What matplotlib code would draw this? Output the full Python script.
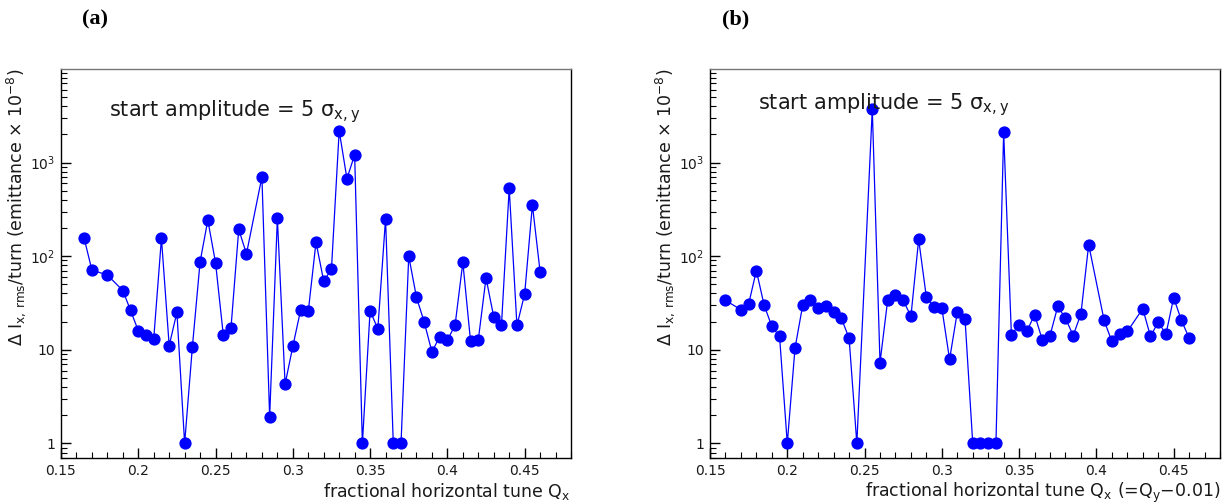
import numpy as np
import matplotlib.pyplot as plt
from matplotlib.ticker import FixedLocator, FixedFormatter, LogLocator, NullFormatter, MultipleLocator

# panel (a): start amplitude 5 sigma, Qx scan
qx_a = [0.165, 0.17, 0.18, 0.19, 0.195, 0.20, 0.205, 0.21, 0.215, 0.22, 0.225, 0.23,
        0.235, 0.24, 0.245, 0.25, 0.255, 0.26, 0.265, 0.27, 0.28, 0.285, 0.29, 0.295,
        0.30, 0.305, 0.31, 0.315, 0.32, 0.325, 0.33, 0.335, 0.34, 0.345, 0.35, 0.355,
        0.36, 0.365, 0.37, 0.375, 0.38, 0.385, 0.39, 0.395, 0.40, 0.405, 0.41, 0.415,
        0.42, 0.425, 0.43, 0.435, 0.44, 0.445, 0.45, 0.455, 0.46]
dI_a = [155, 71, 63, 43, 26.4, 16.0, 14.4, 13.1, 155, 11.1, 25.1, 1,
        10.7, 87, 243, 85, 14.5, 17.2, 193, 106, 702, 1.93, 253, 4.3,
        10.9, 26.4, 25.8, 141, 54, 73, 2185, 674, 1208, 1, 26.2, 16.7,
        251, 1, 1, 100, 36.4, 19.8, 9.5, 13.8, 12.6, 18.5, 86, 12.3,
        12.8, 58.6, 22.4, 18.5, 531, 18.2, 39.5, 352, 68]

# panel (b): Qx = Qy - 0.01
qx_b = [0.16, 0.17, 0.175, 0.18, 0.185, 0.19, 0.195, 0.20, 0.205, 0.21, 0.215, 0.22,
        0.225, 0.23, 0.235, 0.24, 0.245, 0.255, 0.26, 0.265, 0.27, 0.275, 0.28, 0.285,
        0.29, 0.295, 0.30, 0.305, 0.31, 0.315, 0.32, 0.325, 0.33, 0.335, 0.34, 0.345,
        0.35, 0.355, 0.36, 0.365, 0.37, 0.375, 0.38, 0.385, 0.39, 0.395, 0.405, 0.41,
        0.415, 0.42, 0.43, 0.435, 0.44, 0.445, 0.45, 0.455, 0.46]
dI_b = [33.8, 26.8, 30.8, 70.2, 30.1, 17.8, 13.9, 1, 10.4, 30.1, 34.4, 27.9,
        29.1, 25.5, 21.7, 13.3, 1, 3727, 7.3, 34.4, 38.5, 33.8, 22.8, 151,
        36.4, 28.7, 27.9, 7.9, 25.3, 21.3, 1, 1, 1, 1, 2096, 14.5,
        18.4, 15.8, 23.7, 12.8, 14.2, 29.1, 21.7, 14.2, 24.3, 133, 20.6, 12.3,
        14.8, 15.7, 27.5, 13.9, 19.8, 14.7, 36.1, 20.6, 13.4]

ytick_vals = [1, 10, 100, 1000]
ytick_labels = ['1', '10', '10$^{\\mathregular{2}}$', '10$^{\\mathregular{3}}$']
xtick_vals = [0.15, 0.2, 0.25, 0.3, 0.35, 0.4, 0.45]
xtick_labels = ['0.15', '0.2', '0.25', '0.3', '0.35', '0.4', '0.45']

plt.rcParams['font.family'] = ['DejaVu Sans']
plt.rcParams['mathtext.default'] = 'regular'
txt_col = '#1a1a1a'

ylab = 'Δ I$_{\\mathregular{x,\\,rms}}$/turn (emittance × 10$^{-8}$)'
xlabs = ['fractional horizontal tune Q$_{\\mathregular{x}}$',
         'fractional horizontal tune Q$_{\\mathregular{x}}$ (=Q$_{\\mathregular{y}}$−0.01)']
text_y = [0.925, 0.943]

fig = plt.figure(figsize=(12.32, 5.04), dpi=100)
ax_a = fig.add_axes([0.0495, 0.0913, 0.414, 0.772])
ax_b = fig.add_axes([0.5763, 0.0913, 0.414, 0.772])

for i, (ax, qx, dI) in enumerate([(ax_a, qx_a, dI_a), (ax_b, qx_b, dI_b)]):
    ax.plot(qx, dI, '-o', color='blue', lw=0.9, ms=7.8)
    ax.set_yscale('log')
    ax.set_xlim(0.15, 0.48)
    ax.set_ylim(0.7, 1e4)

    ax.xaxis.set_major_locator(FixedLocator(xtick_vals))
    ax.xaxis.set_major_formatter(FixedFormatter(xtick_labels))
    ax.xaxis.set_minor_locator(MultipleLocator(0.01))
    ax.yaxis.set_major_locator(FixedLocator(ytick_vals))
    ax.yaxis.set_major_formatter(FixedFormatter(ytick_labels))
    ax.yaxis.set_minor_locator(LogLocator(subs=np.arange(2, 10)))
    ax.yaxis.set_minor_formatter(NullFormatter())

    ax.tick_params(which='both', direction='in', top=False, right=False,
                   labelsize=10, labelcolor=txt_col)
    ax.tick_params(which='major', length=7, width=1)
    ax.tick_params(which='minor', length=4, width=0.8)
    ax.tick_params(axis='x', pad=4)
    ax.tick_params(axis='y', pad=4)
    for s in ax.spines.values():
        s.set_linewidth(1)
    ax.spines['top'].set_color('#777777')

    ax.set_ylabel(ylab, fontsize=12.5, loc='top', color=txt_col)
    ax.yaxis.set_label_coords(-0.064, 1.0)
    ax.set_xlabel(xlabs[i], fontsize=12.5, loc='right', color=txt_col)
    ax.xaxis.set_label_coords(1.0, -0.058)
    ax.xaxis.label.set_va('top')

    ax.text(0.094, text_y[i], 'start amplitude = 5 $\\sigma_{\\mathregular{x,y}}$',
            transform=ax.transAxes, fontsize=15, va='top', ha='left', color=txt_col)

fig.text(0.077, 0.962, '(a)', fontsize=16, fontweight='bold', family='Liberation Serif',
         ha='center', va='center')
fig.text(0.597, 0.962, '(b)', fontsize=16, fontweight='bold', family='Liberation Serif',
         ha='center', va='center')

fig.savefig('out.png', dpi=100)
